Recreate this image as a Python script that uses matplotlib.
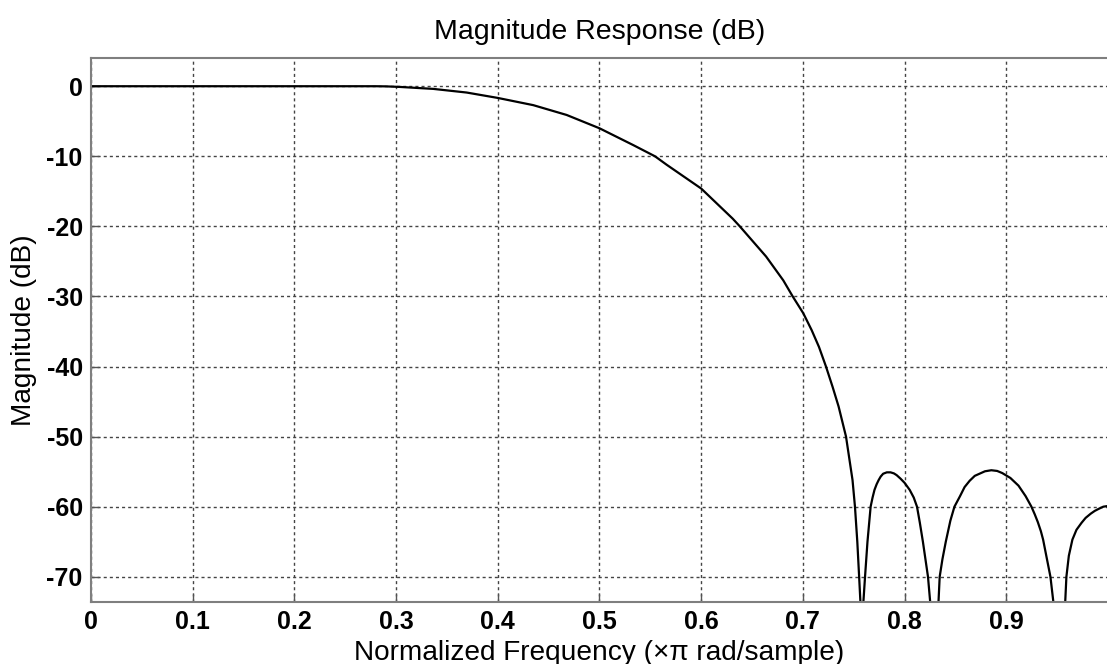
import matplotlib
matplotlib.use('Agg')
import matplotlib.pyplot as plt
import numpy as np

# normalized frequency (x pi rad/sample) and magnitude (dB)
freq = [0.000, 0.100, 0.200, 0.280, 0.290, 0.3038, 0.3366, 0.3694, 0.400, 0.4349,
        0.4677, 0.500, 0.5332, 0.5546, 0.566, 0.600, 0.631, 0.638, 0.6638, 0.6807,
        0.690, 0.7004, 0.7086, 0.7158, 0.7227, 0.7292, 0.7351, 0.7424, 0.7488,
        0.7512, 0.7535, 0.7553, 0.7567, 0.7580, 0.7593,
        0.7611, 0.7635, 0.7666, 0.7685, 0.7704, 0.7725, 0.7745, 0.7765, 0.7789,
        0.7825, 0.7862, 0.7895, 0.7922, 0.796, 0.800, 0.805, 0.809, 0.8122,
        0.815, 0.818, 0.8205, 0.8230, 0.8254, 0.8293, 0.8332,
        0.8345, 0.8372, 0.8405, 0.845, 0.849, 0.8545, 0.859, 0.864, 0.869, 0.879,
        0.8853, 0.891, 0.896, 0.904, 0.912, 0.919, 0.9247, 0.928, 0.931, 0.934,
        0.9362, 0.940, 0.9434, 0.9466, 0.9522, 0.9578,
        0.9591, 0.9615, 0.965, 0.969, 0.974, 0.978, 0.983, 0.987, 0.991,
        0.9954, 1.000]
mag_db = [0.0, 0.0, 0.0, 0.0, -0.02, -0.1, -0.38, -0.9, -1.67, -2.7,
          -4.1, -6.0, -8.4, -10.0, -11.2, -14.6, -18.9, -20.0, -24.3, -27.7,
          -30.0, -32.4, -34.8, -37.2, -40.0, -42.9, -45.7, -50.0, -56.2,
          -60.0, -65.0, -70.0, -74.0, -100.0, -74.0,
          -70.0, -65.0, -60.0, -58.7, -57.6, -56.8, -56.2, -55.7, -55.3,
          -55.1, -55.1, -55.25, -55.5, -56.0, -56.6, -57.6, -58.7, -60.0,
          -62.3, -65.0, -67.5, -70.0, -74.0, -100.0, -74.0,
          -70.0, -67.5, -65.0, -62.0, -60.0, -58.5, -57.2, -56.3, -55.6, -54.95,
          -54.8, -54.9, -55.2, -55.9, -57.0, -58.5, -60.0, -61.1, -62.2, -63.5,
          -64.7, -67.5, -70.0, -74.0, -100.0, -74.0,
          -70.0, -67.0, -64.7, -63.3, -62.3, -61.6, -61.0, -60.6, -60.3,
          -60.0, -59.9]

xticks = [0, 0.1, 0.2, 0.3, 0.4, 0.5, 0.6, 0.7, 0.8, 0.9]
xticklabels = ['0', '0.1', '0.2', '0.3', '0.4', '0.5', '0.6', '0.7', '0.8', '0.9']
yticks = [0, -10, -20, -30, -40, -50, -60, -70]
yticklabels = ['0', '-10', '-20', '-30', '-40', '-50', '-60', '-70']

plt.rcParams['font.family'] = ['Liberation Sans', 'DejaVu Sans']
plt.rcParams['axes.unicode_minus'] = False

fig = plt.figure(figsize=(11.07, 6.64), dpi=100)
ax = fig.add_axes([0.0822, 0.0934, 0.9187, 0.82])

ax.plot(freq, mag_db, color='black', lw=1.6, solid_joinstyle='round')

ax.set_xlim(0, 1)
ax.set_ylim(-73.6, 4.1)
ax.set_xticks(xticks)
ax.set_xticklabels(xticklabels, fontsize=18, fontweight='bold')
ax.set_yticks(yticks)
ax.set_yticklabels(yticklabels, fontsize=18, fontweight='bold')
ax.tick_params(direction='in', length=6, width=1, color='#555555', pad=6)

ax.grid(True, color='#444444', linestyle=(0, (2.2, 2.2)), linewidth=1)
for s in ['top', 'bottom', 'left', 'right']:
    ax.spines[s].set_color('#7f7f7f')
    ax.spines[s].set_linewidth(1.5)
ax.spines['right'].set_visible(False)

ax.set_title('Magnitude Response (dB)', fontsize=20.5, pad=13)
ax.set_xlabel('Normalized Frequency (\u00d7\u03c0 rad/sample)', fontsize=20.2, labelpad=4)
ax.set_ylabel('Magnitude (dB)', fontsize=20.2, labelpad=7)

fig.savefig('out.png', dpi=100)
